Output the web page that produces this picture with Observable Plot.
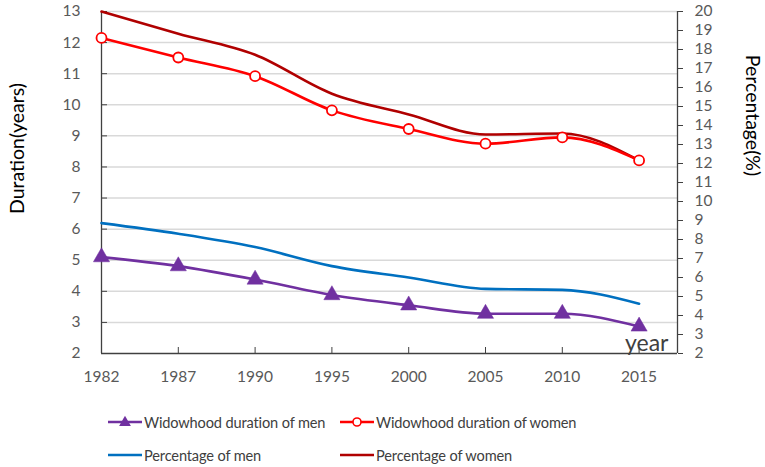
<!DOCTYPE html>
<html>
<head>
<meta charset="utf-8">
<script src="https://cdn.jsdelivr.net/npm/d3@7"></script>
<script src="https://cdn.jsdelivr.net/npm/@observablehq/plot@0.6"></script>
<style>
  html, body { margin: 0; padding: 0; background: #fff; }
  #wrap { position: relative; width: 765px; height: 467px; font-family: Lato, sans-serif; }
  .item { position: absolute; display: flex; align-items: center; font-size: 14.6px; letter-spacing: -0.15px; color: #404040; white-space: nowrap; }
  .item svg { margin-right: 2px; }
</style>
</head>
<body>
<div id="wrap">
  <div id="chart"></div>
  <div id="legend"></div>
</div>
<script>
const years = ["1982", "1987", "1990", "1995", "2000", "2005", "2010", "2015"];
const menDuration = [5.1, 4.81, 4.38, 3.88, 3.55, 3.28, 3.28, 2.87];
const womenDuration = [12.15, 11.52, 10.92, 9.82, 9.22, 8.75, 8.95, 8.21];
const menPercentage = [8.86, 8.3, 7.6, 6.6, 6.0, 5.4, 5.35, 4.62];
const womenPercentage = [20, 18.83, 17.72, 15.67, 14.58, 13.53, 13.58, 12.16];
const leftTicks = d3.range(2, 14);
const rightTicks = d3.range(2, 21);
const leftDomain = [2, 13];
const rightDomain = [2, 20];

const toLeft = p => leftDomain[0] + (p - rightDomain[0]) * (leftDomain[1] - leftDomain[0]) / (rightDomain[1] - rightDomain[0]);
const fromLeft = v => rightDomain[0] + (v - leftDomain[0]) * (rightDomain[1] - rightDomain[0]) / (leftDomain[1] - leftDomain[0]);

const idx = years.map((_, i) => i);
const xDomain = [0, years.length - 0.5];
const rows = (arr, conv) => arr.map((v, i) => ({i, y: conv ? conv(v) : v}));

const C = {
  menDur: "#7030a0",
  womenDur: "#ff0000",
  menPct: "#0070c0",
  womenPct: "#b00000"
};

const chart = Plot.plot({
  width: 765,
  height: 398,
  marginTop: 11,
  marginBottom: 45,
  marginLeft: 101,
  marginRight: 88,
  style: {fontFamily: "Lato, sans-serif", fontSize: "15.5px", color: "#595959", background: "white"},
  x: {domain: xDomain, axis: null},
  y: {domain: leftDomain, axis: null},
  marks: [
    Plot.gridY(d3.range(3, 14), {stroke: "#d9d9d9", strokeOpacity: 1, strokeWidth: 1.5}),
    Plot.ruleX(xDomain, {stroke: "#404040", strokeWidth: 1.3}),
    Plot.ruleY([leftDomain[0]], {stroke: "#404040", strokeWidth: 1.3}),
    // left axis
    Plot.axisY(leftTicks, {anchor: "left", tickSize: 0, tickPadding: 21, fill: "#595959", label: null}),
    Plot.axisY(leftTicks, {anchor: "left", tickSize: 6, dx: 6, tickFormat: () => "", stroke: "#404040", label: null}),
    // right axis
    Plot.axisY(rightTicks.map(toLeft), {anchor: "right", tickSize: 5, tickPadding: 12, tickFormat: d => String(Math.round(fromLeft(d))), fill: "#595959", stroke: "#404040", label: null}),
    // bottom axis
    Plot.axisX(idx, {anchor: "bottom", tickSize: 0, tickPadding: 17, tickFormat: i => years[i], fill: "#595959", label: null}),
    Plot.axisX(idx, {anchor: "bottom", tickSize: 6, dy: -6, tickFormat: () => "", stroke: "#404040", label: null}),
    // series
    Plot.lineY(rows(womenPercentage, toLeft), {x: "i", y: "y", stroke: C.womenPct, strokeWidth: 2.6, curve: "monotone-x"}),
    Plot.lineY(rows(womenDuration), {x: "i", y: "y", stroke: C.womenDur, strokeWidth: 2.6, curve: "monotone-x"}),
    Plot.lineY(rows(menPercentage, toLeft), {x: "i", y: "y", stroke: C.menPct, strokeWidth: 2.6, curve: "monotone-x"}),
    Plot.lineY(rows(menDuration), {x: "i", y: "y", stroke: C.menDur, strokeWidth: 2.6, curve: "monotone-x"}),
    Plot.dot(rows(womenDuration), {x: "i", y: "y", r: 5, stroke: C.womenDur, strokeWidth: 1.8, fill: "white"}),
    Plot.dot(rows(menDuration), {x: "i", y: "y", r: 6, symbol: "triangle", fill: C.menDur, stroke: C.menDur, strokeWidth: 0.5}),
    // annotations
    Plot.text(["year"], {frameAnchor: "bottom-right", dx: -9, dy: -3, text: d => d, fontSize: 23, fill: "#404040", textAnchor: "end", lineAnchor: "bottom"}),
    Plot.text(["Duration(years)"], {frameAnchor: "left", text: d => d, rotate: -90, dx: -84, dy: -34, fontSize: 19.5, fill: "#000", textAnchor: "middle", lineAnchor: "middle"}),
    Plot.text(["Percentage(%)"], {frameAnchor: "right", text: d => d, rotate: 90, dx: 75, dy: -67, fontSize: 19.5, fill: "#000", textAnchor: "middle", lineAnchor: "middle"})
  ]
});
document.getElementById("chart").appendChild(chart);

// legend
const legendItems = [
  {label: "Widowhood duration of men", color: C.menDur, marker: "triangle", left: 108, top: 422},
  {label: "Widowhood duration of women", color: C.womenDur, marker: "circle", left: 340, top: 422},
  {label: "Percentage of men", color: C.menPct, marker: null, left: 108, top: 455},
  {label: "Percentage of women", color: C.womenPct, marker: null, left: 340, top: 455}
];
const legend = d3.select("#legend");
for (const it of legendItems) {
  const div = legend.append("div").attr("class", "item")
    .style("left", it.left + "px").style("top", (it.top - 11) + "px").style("height", "22px");
  const s = div.append("svg").attr("width", 34).attr("height", 14);
  s.append("line").attr("x1", 0).attr("x2", 34).attr("y1", 7).attr("y2", 7)
    .attr("stroke", it.color).attr("stroke-width", 2.6);
  if (it.marker === "triangle") {
    s.append("path").attr("transform", "translate(17,7.5)")
      .attr("d", d3.symbol(d3.symbolTriangle, 60)()).attr("fill", it.color);
  } else if (it.marker === "circle") {
    s.append("circle").attr("cx", 17).attr("cy", 7).attr("r", 4)
      .attr("fill", "white").attr("stroke", it.color).attr("stroke-width", 1.6);
  }
  div.append("span").text(it.label);
}
</script>
</body>
</html>
